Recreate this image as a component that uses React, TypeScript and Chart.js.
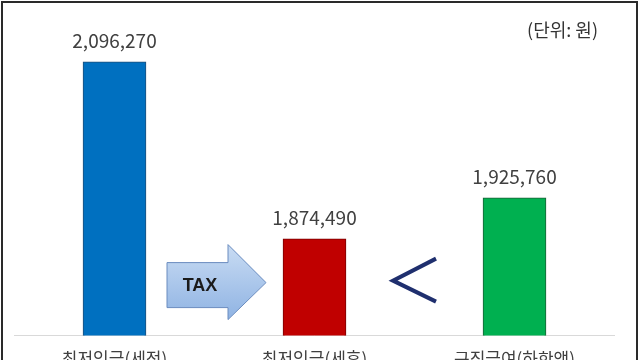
import React, { useEffect, useRef } from "react";
import { Chart, registerables } from "chart.js";

Chart.register(...registerables);

const categories = ["최저임금(세전)", "최저임금(세후)", "구직급여(하한액)"];
const values = [2096270, 1874490, 1925760];
const barColors = ["#0070c0", "#c00000", "#00b050"];
const barBorders = ["#1f4e79", "#7a0000", "#1a5e35"];
const unitLabel = "(단위: 원)";
const arrowLabel = "TAX";
const yMin = 1753000;
const yMax = 2161400;

const FONT = "'Noto Sans CJK KR', 'Noto Sans', sans-serif";

const fmt = (v: number) => v.toLocaleString("en-US");

const decorPlugin = {
  id: "decor",
  afterDatasetsDraw(chart: any) {
    const ctx = chart.ctx;
    const meta = chart.getDatasetMeta(0);
    const area = chart.chartArea;
    const base = area.bottom;
    ctx.save();
    // value labels
    ctx.fillStyle = "#404040";
    ctx.font = `19px ${FONT}`;
    ctx.textAlign = "center";
    ctx.textBaseline = "middle";
    meta.data.forEach((bar: any, i: number) => {
      ctx.fillText(fmt(values[i]), bar.x, bar.y - 21);
    });
    // unit label
    ctx.font = `18px ${FONT}`;
    ctx.textAlign = "right";
    ctx.fillStyle = "#333333";
    ctx.fillText(unitLabel, chart.width - 42, 30);

    // TAX arrow between bar 0 and bar 1
    const b0 = meta.data[0].x;
    const b1 = meta.data[1].x;
    const ax0 = b0 + 52.5;
    const axH = b0 + 113.5;
    const axT = b0 + 151.5;
    const mid = base - 53;
    const grad = ctx.createLinearGradient(0, base - 91, 0, base - 16);
    grad.addColorStop(0, "#c9dcf3");
    grad.addColorStop(1, "#8fb3e3");
    ctx.beginPath();
    ctx.moveTo(ax0, base - 73);
    ctx.lineTo(axH, base - 73);
    ctx.lineTo(axH, base - 91);
    ctx.lineTo(axT, mid);
    ctx.lineTo(axH, base - 16);
    ctx.lineTo(axH, base - 28);
    ctx.lineTo(ax0, base - 28);
    ctx.closePath();
    ctx.fillStyle = grad;
    ctx.fill();
    ctx.strokeStyle = "#6a8cbf";
    ctx.lineWidth = 1;
    ctx.stroke();
    ctx.fillStyle = "#1a1a1a";
    ctx.font = `bold 18px 'Liberation Sans', Arial, sans-serif`;
    ctx.textAlign = "center";
    ctx.fillText(arrowLabel, b0 + 85.5, base - 50);

    // "<" between bar 1 and bar 2
    const b2 = meta.data[2].x;
    const lx = (b1 + b2) / 2;
    ctx.beginPath();
    ctx.moveTo(lx + 21.5, base - 77);
    ctx.lineTo(lx - 21.5, base - 55);
    ctx.lineTo(lx + 21.5, base - 34);
    ctx.strokeStyle = "#1f2f6e";
    ctx.lineWidth = 4;
    ctx.lineJoin = "miter";
    ctx.stroke();
    ctx.restore();
  },
};

export default function App() {
  const ref = useRef<HTMLCanvasElement | null>(null);
  useEffect(() => {
    document.body.style.margin = "0";
    const chart = new Chart(ref.current as HTMLCanvasElement, {
      type: "bar",
      data: {
        labels: categories,
        datasets: [
          {
            data: values,
            backgroundColor: barColors,
            borderColor: barBorders,
            borderWidth: 1,
            barThickness: 63,
          },
        ],
      },
      options: {
        animation: false,
        responsive: false,
        layout: { padding: { left: 14.5, right: 25.5, top: 10, bottom: 10 } },
        plugins: { legend: { display: false }, tooltip: { enabled: false } },
        scales: {
          y: { display: false, min: yMin, max: yMax },
          x: {
            grid: { display: false, drawTicks: false },
            border: { display: true, color: "#d9d9d9", width: 1 },
            ticks: { color: "#404040", font: { size: 17, family: FONT }, padding: 13 },
          },
        },
      },
      plugins: [decorPlugin],
    });
    return () => chart.destroy();
  }, []);
  return (
    <div style={{ position: "relative", width: 640, height: 360, overflow: "hidden", background: "#fff" }}>
      <canvas ref={ref} width={640} height={392} style={{ display: "block" }} />
      <div
        style={{
          position: "absolute",
          left: 1,
          top: 1,
          width: 637,
          height: 400,
          border: "2px solid #2a2a2a",
          boxSizing: "border-box",
          pointerEvents: "none",
        }}
      />
    </div>
  );
}
